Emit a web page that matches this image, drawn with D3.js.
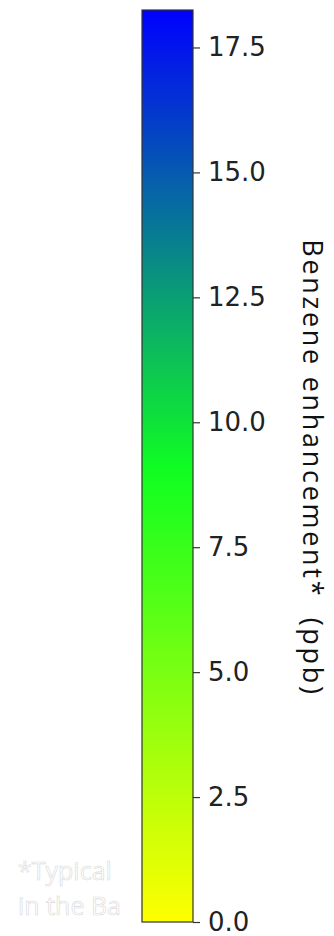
<!DOCTYPE html>
<html>
<head>
<meta charset="utf-8">
<script src="https://cdn.jsdelivr.net/npm/d3@7"></script>
<style>
  html, body { margin: 0; padding: 0; background: #fff; }
  svg { display: block; }
</style>
</head>
<body>
<svg width="334" height="936"></svg>
<script>
// colour bar values
const domainMax = 18.25;
const tickValues = [0, 2.5, 5, 7.5, 10, 12.5, 15, 17.5];
const tickLabels = ["0.0", "2.5", "5.0", "7.5", "10.0", "12.5", "15.0", "17.5"];
const stopValues = [0, 9, 18.25];
const stopColors = ["#ffff00", "#10ff20", "#0000ff"];
const axisTitle = "Benzene enhancement*  (ppb)";
const noteLines = ["*Typical", "in the Ba"];

const svg = d3.select("svg");
const bar = {x: 142, y: 10, w: 51, h: 912};

let scaleY = d3.scaleLinear().domain([0, domainMax]).range([bar.y + bar.h, bar.y]);
let color = d3.scaleLinear().domain(stopValues).range(stopColors);

// gradient
let grad = svg.append("defs").append("linearGradient")
  .attr("id", "cb").attr("x1", 0).attr("y1", 1).attr("x2", 0).attr("y2", 0);
d3.range(0, 41).forEach(i => {
  let v = domainMax * i / 40;
  grad.append("stop").attr("offset", (i / 40)).attr("stop-color", color(v));
});

// faint note behind everything
svg.append("g").selectAll("text").data(noteLines).enter().append("text")
  .attr("x", 18).attr("y", (d, i) => 880 + i * 35)
  .attr("font-family", "Open Sans").attr("font-size", 25)
  .attr("fill", "#fff").attr("stroke", "#d8d8d8").attr("stroke-width", 0.6)
  .text(d => d);

svg.append("rect")
  .attr("x", bar.x).attr("y", bar.y).attr("width", bar.w).attr("height", bar.h)
  .attr("fill", "url(#cb)").attr("stroke", "#333").attr("stroke-width", 1.2);

let axis = d3.axisRight(scaleY).tickValues(tickValues)
  .tickFormat((d, i) => tickLabels[i]).tickSize(7).tickPadding(8);
let g = svg.append("g").attr("transform", `translate(${bar.x + bar.w},0)`).call(axis);
g.select(".domain").remove();
g.selectAll(".tick line").attr("stroke", "#333").attr("stroke-width", 1.2);
g.selectAll(".tick text")
  .attr("font-family", "DejaVu Sans").attr("font-size", 26).attr("fill", "#222");

svg.append("text")
  .attr("transform", "translate(303,468) rotate(90)")
  .attr("text-anchor", "middle")
  .style("white-space", "pre")
  .attr("font-family", "Open Sans").attr("font-size", 27)
  .attr("letter-spacing", 2.7).attr("fill", "#111")
  .text(axisTitle);
</script>
</body>
</html>
